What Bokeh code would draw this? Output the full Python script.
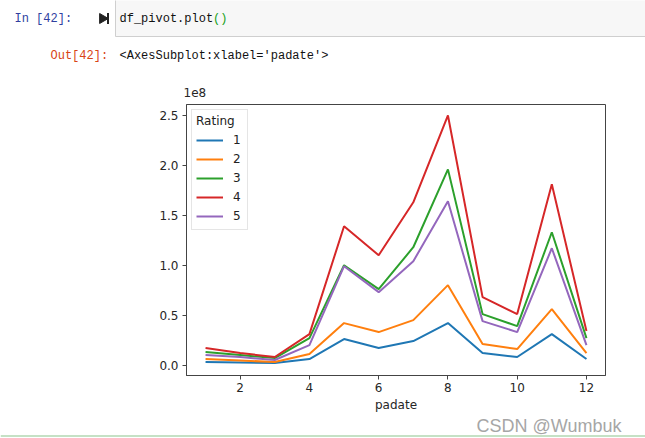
from bokeh.plotting import figure
from bokeh.models import (Range1d, FixedTicker, NumeralTickFormatter, Legend, LegendItem,
                          Title, ColumnDataSource)
from bokeh.embed import file_html
from bokeh.resources import INLINE
from bokeh.core.properties import value

# ---- data (values in units of 1e8) ----
padate = [1, 2, 3, 4, 5, 6, 7, 8, 9, 10, 11, 12]
rating_1 = [0.03, 0.025, 0.02, 0.06, 0.26, 0.17, 0.24, 0.42, 0.12, 0.08, 0.31, 0.06]
rating_2 = [0.06, 0.045, 0.03, 0.11, 0.42, 0.33, 0.45, 0.80, 0.21, 0.16, 0.56, 0.12]
rating_3 = [0.13, 0.10, 0.07, 0.27, 1.00, 0.76, 1.18, 1.96, 0.51, 0.39, 1.33, 0.27]
rating_4 = [0.17, 0.12, 0.08, 0.31, 1.39, 1.10, 1.63, 2.50, 0.68, 0.51, 1.81, 0.34]
rating_5 = [0.10, 0.08, 0.05, 0.20, 0.99, 0.73, 1.04, 1.64, 0.44, 0.33, 1.17, 0.20]
rating_labels = ["1", "2", "3", "4", "5"]
x_ticks = [2, 4, 6, 8, 10, 12]
y_ticks = [0.0, 0.5, 1.0, 1.5, 2.0, 2.5]

colors = ["#1f77b4", "#ff7f0e", "#2ca02c", "#d62728", "#9467bd"]

W = 645
HEAD_H = 75
CHART_H = 339
FOOT_H = 24


def blank(fig):
    fig.axis.visible = False
    fig.grid.visible = False
    fig.outline_line_color = None
    fig.background_fill_color = "white"
    fig.border_fill_color = "white"


# ---- notebook header (pixel coordinates) ----
head = figure(width=W, height=HEAD_H, x_range=Range1d(0, W), y_range=Range1d(HEAD_H, 0),
              output_backend="svg", toolbar_location=None, min_border=0,
              min_border_left=0, min_border_right=0, min_border_top=0, min_border_bottom=0)
blank(head)
head.quad(left=[115], right=[660], top=[-5], bottom=[36], fill_color="#f7f7f7",
          line_color="#cfcfcf", line_width=1)
mono = value("Liberation Mono")
head.text(x=[14], y=[18], text=["In  [42]:"], text_font=mono, text_font_size="12px",
          text_color="#303f9f", text_baseline="middle")
head.scatter(x=[102], y=[18], marker="triangle", angle=-1.5708, size=10,
             fill_color="#222222", line_color="#222222")
head.rect(x=[107.5], y=[18], width=2, height=11, fill_color="#222222", line_color=None)
head.text(x=[119], y=[18], text=["df_pivot.plot"], text_font=mono, text_font_size="12px",
          text_color="#111111", text_baseline="middle")
head.text(x=[212.6], y=[18], text=["()"], text_font=mono, text_font_size="12px",
          text_color="#1a9f1a", text_baseline="middle")
head.text(x=[50], y=[55], text=["Out[42]:"], text_font=mono, text_font_size="12px",
          text_color="#d84315", text_baseline="middle")
head.text(x=[119], y=[55], text=["<AxesSubplot:xlabel='padate'>"], text_font=mono,
          text_font_size="12px", text_color="#111111", text_baseline="middle")

# ---- chart ----
p = figure(width=W, height=CHART_H, x_range=Range1d(0.45, 12.55), y_range=Range1d(-0.105, 2.61),
           output_backend="svg", toolbar_location=None,
           min_border_left=186, min_border_right=40, min_border_top=29, min_border_bottom=38)
p.grid.visible = False
p.outline_line_color = "#444444"
p.outline_line_width = 1
p.background_fill_color = "white"
p.border_fill_color = "white"

src = ColumnDataSource(dict(x=padate, r1=rating_1, r2=rating_2, r3=rating_3,
                            r4=rating_4, r5=rating_5))
items = []
for i, (col, lab) in enumerate(zip(colors, rating_labels)):
    r = p.line(x="x", y="r%d" % (i + 1), source=src, line_color=col, line_width=2)
    items.append(LegendItem(label=lab, renderers=[r]))

font = "DejaVu Sans"
for ax in (p.xaxis, p.yaxis):
    ax.axis_line_color = "#444444"
    ax.major_tick_line_color = "#444444"
    ax.major_tick_out = 4
    ax.major_tick_in = 0
    ax.minor_tick_line_color = None
    ax.major_label_text_font = font
    ax.major_label_text_font_size = "12px"
    ax.major_label_text_color = "#262626"
    ax.major_label_standoff = 4

p.xaxis.ticker = FixedTicker(ticks=x_ticks)
p.yaxis.ticker = FixedTicker(ticks=y_ticks)
p.yaxis.formatter = NumeralTickFormatter(format="0.0")
p.xaxis.major_label_standoff = 3
p.xaxis.axis_label = "padate"
p.xaxis.axis_label_text_font = font
p.xaxis.axis_label_text_font_size = "12px"
p.xaxis.axis_label_text_font_style = "normal"
p.xaxis.axis_label_text_color = "#262626"
p.xaxis.axis_label_standoff = 3

p.add_layout(Title(text="1e8", align="left", text_font=font, text_font_size="12px",
                   text_font_style="normal", text_color="#262626", offset=-3,
                   standoff=15), "above")

legend = Legend(items=items, location="top_left", title="Rating",
                title_text_font=font, title_text_font_size="12px",
                title_text_font_style="normal", title_text_color="#222222",
                title_standoff=3,
                label_text_font=font, label_text_font_size="12px", label_text_color="#222222",
                glyph_width=27, glyph_height=18, label_height=18, label_width=10, spacing=1,
                label_standoff=10, padding=4, margin=5,
                border_line_color="#cccccc", border_line_width=1,
                background_fill_color="white", background_fill_alpha=0.8)
p.add_layout(legend)

# ---- footer: watermark and the notebook's green rule (pixel coordinates) ----
foot = figure(width=W, height=FOOT_H, x_range=Range1d(0, W), y_range=Range1d(FOOT_H, 0),
              output_backend="svg", toolbar_location=None, min_border=0,
              min_border_left=0, min_border_right=0, min_border_top=0, min_border_bottom=0)
blank(foot)
foot.text(x=[476], y=[11], text=["CSDN @Wumbuk"], text_font=value("Liberation Sans"),
          text_font_size="18px", text_color="#a6a6a6", text_baseline="middle")
foot.quad(left=[0], right=[W], top=[21], bottom=[22], fill_color="#8cc48c", line_color=None)

open("out.html", "w").write(file_html([head, p, foot], INLINE))
